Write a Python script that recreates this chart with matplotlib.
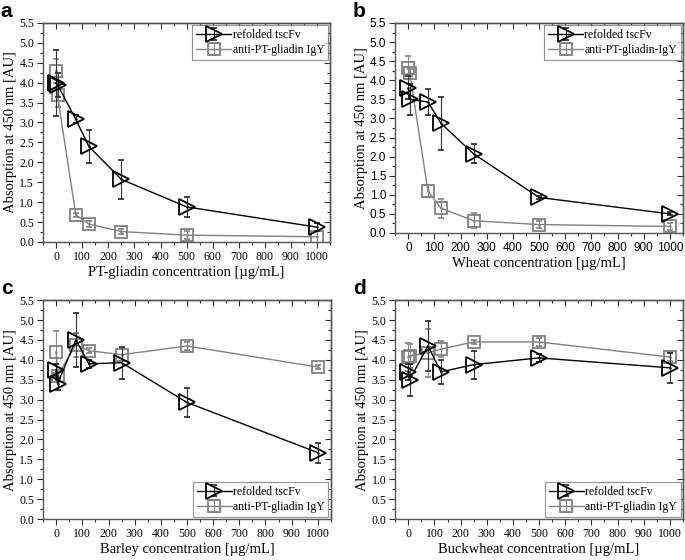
import matplotlib.pyplot as plt
from matplotlib.ticker import MultipleLocator

# concentrations in ug/mL (two replicates at 0)
conc = [0, 5, 75, 125, 250, 500, 1000]

tscfv_a = [4.0, 3.95, 3.08, 2.4, 1.57, 0.88, 0.37]
tscfv_a_err = [0.83, 0.3, 0.1, 0.42, 0.48, 0.26, 0.1]
igy_a = [4.3, 3.68, 0.68, 0.45, 0.26, 0.17, 0.13]
igy_a_err = [0.3, 0.3, 0.05, 0.08, 0.07, 0.1, 0.15]

tscfv_b = [3.8, 3.5, 3.43, 2.87, 2.07, 0.93, 0.5]
tscfv_b_err = [0.3, 0.4, 0.33, 0.7, 0.25, 0.04, 0.04]
igy_b = [4.33, 4.2, 1.1, 0.65, 0.32, 0.22, 0.17]
igy_b_err = [0.3, 0.1, 0.15, 0.25, 0.2, 0.1, 0.08]

tscfv_c = [3.75, 3.4, 4.5, 3.9, 3.93, 2.93, 1.67]
tscfv_c_err = [0.15, 0.15, 0.68, 0.1, 0.4, 0.37, 0.25]
igy_c = [4.2, 3.6, 4.38, 4.23, 4.13, 4.35, 3.82]
igy_c_err = [0.52, 0.1, 0.3, 0.06, 0.15, 0.1, 0.06]

tscfv_d = [3.7, 3.5, 4.35, 3.7, 3.88, 4.05, 3.8]
tscfv_d_err = [0.2, 0.4, 0.63, 0.3, 0.35, 0.1, 0.37]
igy_d = [4.08, 4.1, 4.18, 4.27, 4.45, 4.45, 4.07]
igy_d_err = [0.35, 0.3, 0.6, 0.2, 0.05, 0.1, 0.1]

xlabels = ['PT-gliadin concentration [\u00b5g/mL]', 'Wheat concentration [\u00b5g/mL]',
           'Barley concentration [\u00b5g/mL]', 'Buckwheat concentration [\u00b5g/mL]']
igy_names = ['anti-PT-gliadin IgY', 'anti-PT-gliadin-IgY',
             'anti-PT-gliadin IgY', 'anti-PT-gliadin IgY']
letters = ['a', 'b', 'c', 'd']

panels = [(tscfv_a, tscfv_a_err, igy_a, igy_a_err),
          (tscfv_b, tscfv_b_err, igy_b, igy_b_err),
          (tscfv_c, tscfv_c_err, igy_c, igy_c_err),
          (tscfv_d, tscfv_d_err, igy_d, igy_d_err)]

rects = [[0.063, 0.568, 0.419, 0.391],
         [0.577, 0.584, 0.42, 0.375],
         [0.063, 0.073, 0.42, 0.391],
         [0.577, 0.073, 0.42, 0.391]]

serif = ['Liberation Serif', 'DejaVu Serif']
sans = ['Liberation Sans', 'DejaVu Sans']

fig = plt.figure(figsize=(6.85, 5.6), dpi=100)


def set_locators(axis, major, minor):
    axis.set_major_locator(MultipleLocator(major))
    axis.set_minor_locator(MultipleLocator(minor))


for i, (t, te, g, ge) in enumerate(panels):
    ax = fig.add_axes(rects[i])
    ax.errorbar(conc, g, yerr=ge, color='#808080', lw=1.0, marker='s', ms=9,
                mfc='none', mec='#808080', mew=1.3, capsize=2, elinewidth=0.8,
                ecolor='#888888', label=igy_names[i], zorder=2)
    ax.errorbar(conc, t, yerr=te, color='black', lw=1.0, marker='>', ms=12,
                mfc='none', mec='black', mew=1.3, capsize=2, elinewidth=0.8,
                ecolor='#333333', label='refolded tscFv', zorder=3)
    ax.plot(conc, g, ls='none', marker='.', ms=1.5, color='#808080')
    ax.plot(conc, t, ls='none', marker='.', ms=1.5, color='black')
    ax.set_xlim(-50, 1050)
    ax.set_ylim(0, 5.5)
    set_locators(ax.xaxis, 100, 50)
    set_locators(ax.yaxis, 0.5, 0.25)
    ax.tick_params(which='both', direction='out', color='#333333', pad=2.5)
    ax.tick_params(which='major', length=4, width=0.8)
    ax.tick_params(which='minor', length=2, width=0.8)

    # inward ticks on the top and right spines
    top = ax.secondary_xaxis('top')
    set_locators(top.xaxis, 100, 50)
    top.tick_params(which='both', direction='in', labeltop=False, color='#333333')
    top.tick_params(which='major', length=4, width=0.8)
    top.tick_params(which='minor', length=2, width=0.8)
    right = ax.secondary_yaxis('right')
    set_locators(right.yaxis, 0.5, 0.25)
    right.tick_params(which='both', direction='in', labelright=False, color='#333333')
    right.tick_params(which='major', length=4, width=0.8)
    right.tick_params(which='minor', length=2, width=0.8)
    for a in (ax, top, right):
        for sp in a.spines.values():
            sp.set_color('#555555')
            sp.set_linewidth(1.0)

    tick_font = sans if i == 1 else serif
    for lab in ax.get_xticklabels() + ax.get_yticklabels():
        lab.set_family(tick_font)
        lab.set_fontsize(8.5)
    ax.set_xlabel(xlabels[i], family=serif, fontsize=10.5, labelpad=2)
    ax.set_ylabel('Absorption at 450 nm [AU]', family=serif, fontsize=10.5, labelpad=1.5)

    handles, labels = ax.get_legend_handles_labels()
    loc = 'upper right' if i < 2 else 'lower right'
    leg = ax.legend(handles[::-1], labels[::-1], loc=loc, prop={'family': serif, 'size': 8.5},
                    fancybox=False, edgecolor='#777777', borderaxespad=0.2,
                    handlelength=3.0, handletextpad=0.1, borderpad=0.3,
                    labelspacing=0.3, markerscale=1.0)
    leg.get_frame().set_linewidth(0.8)

    fig.text(rects[i][0] - 0.062, rects[i][1] + rects[i][3] + 0.003, letters[i],
             family=sans, fontweight='bold', fontsize=15, va='bottom')

fig.savefig('out.png', dpi=100)
